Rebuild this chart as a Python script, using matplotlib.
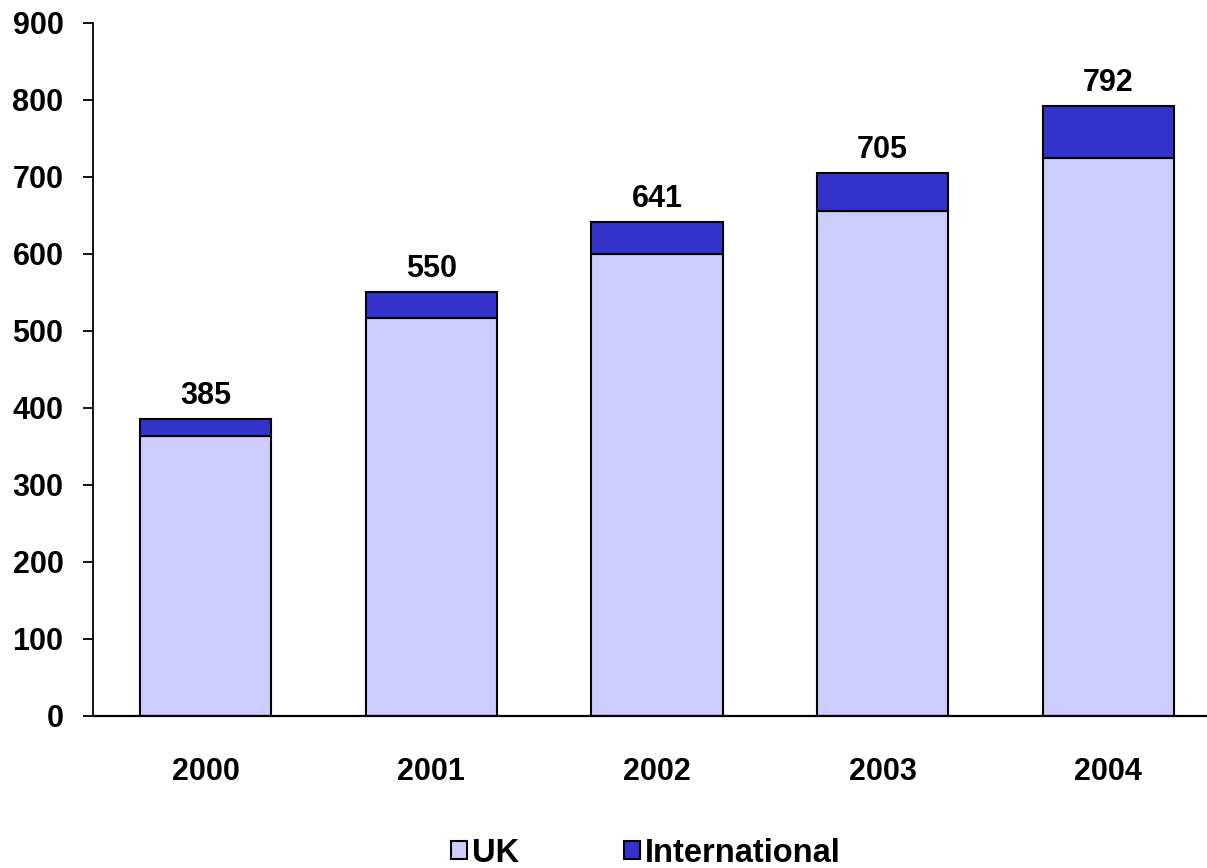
import matplotlib
matplotlib.use("Agg")
import matplotlib.pyplot as plt
import numpy as np

years = ["2000", "2001", "2002", "2003", "2004"]
uk = [363, 517, 599, 656, 724]
international = [22, 33, 42, 49, 68]
totals = [385, 550, 641, 705, 792]
yticks = [0, 100, 200, 300, 400, 500, 600, 700, 800, 900]

plt.rcParams['font.family'] = ['Liberation Sans', 'DejaVu Sans']
plt.rcParams['font.weight'] = 'bold'

W, H = 1207, 868
fig = plt.figure(figsize=(W / 100, H / 100), dpi=100)
left = 92.7 / W
bottom = 1 - 715.7 / H
top = 1 - 22.7 / H
ax = fig.add_axes([left, bottom, 1 - left, top - bottom])

x = np.arange(len(years))
bw = 131.5 / 225.7
c_uk = "#CCCCFF"
c_int = "#3333CC"
b1 = ax.bar(x, uk, width=bw, color=c_uk, edgecolor="black", linewidth=1.5, label="UK")
b2 = ax.bar(x, international, width=bw, bottom=uk, color=c_int, edgecolor="black",
            linewidth=1.5, label="International")

for xi, t in zip(x, totals):
    ax.annotate(str(t), (xi, t), xytext=(0, 6), textcoords="offset points",
                ha="center", va="bottom", fontsize=22, fontweight="bold")

ax.set_ylim(0, 900)
ax.set_xlim(-0.5, -0.5 + (W - 92.7) / 225.7)
ax.set_yticks(yticks)
ax.set_xticks(x)
ax.set_xticklabels(years)
ax.tick_params(axis="y", length=7, width=1.3, direction="out", pad=14, labelsize=22)
ax.tick_params(axis="x", length=0, pad=30, labelsize=22)
for lbl in ax.get_xticklabels() + ax.get_yticklabels():
    lbl.set_fontweight("bold")

for s in ["top", "right"]:
    ax.spines[s].set_visible(False)
ax.spines["left"].set_linewidth(1.3)
ax.spines["bottom"].set_linewidth(1.6)

leg = fig.legend(handles=[b1, b2], labels=["UK", "International"], loc="center",
                 bbox_to_anchor=(646 / W, 1 - 853 / H), ncol=2, frameon=False,
                 prop={"size": 23.5, "weight": "bold"}, handlelength=0.5, handleheight=0.5,
                 handletextpad=0.15, columnspacing=3.2, borderaxespad=0, borderpad=0)

fig.savefig("out.png", dpi=100)
